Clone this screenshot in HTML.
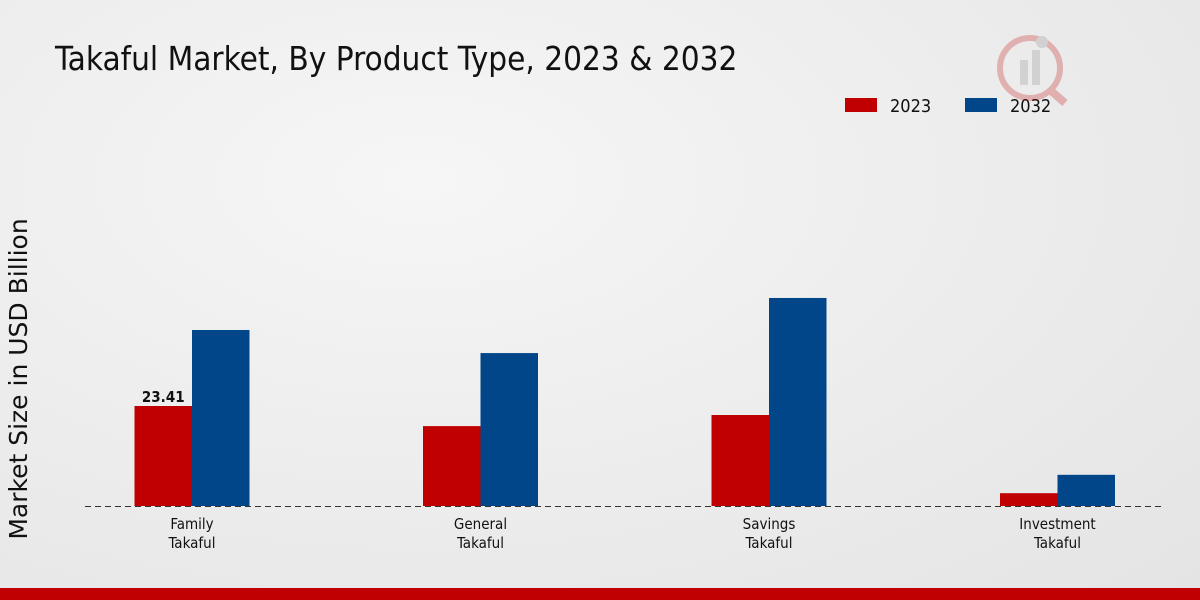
<!DOCTYPE html>
<html><head><meta charset="utf-8"><style>
body{margin:0;width:1200px;height:600px;overflow:hidden;background:radial-gradient(ellipse at 35% 30%,#f6f6f6 0%,#ebebeb 60%,#e4e4e4 100%);font-family:"DejaVu Sans Condensed","Liberation Sans Narrow","Liberation Sans",sans-serif;}
svg{position:absolute;left:0;top:0}
</style></head><body>
<svg width="1200" height="600" id="c">
<text x="55" y="70" font-size="33" fill="#111" style="font-family:'DejaVu Sans Condensed','Liberation Sans Narrow',sans-serif">Takaful Market, By Product Type, 2023 &amp; 2032</text>
<g>
<rect x="845" y="98" width="32" height="14" fill="#c00000"/>
<text x="890" y="112" font-size="18" fill="#111">2023</text>
<rect x="965" y="98" width="32" height="14" fill="#004689"/>
<text x="1010" y="112" font-size="18" fill="#111">2032</text>
</g>
<g opacity="0.25">
<circle cx="1030" cy="68" r="30" fill="none" stroke="#c00000" stroke-width="6"/>
<rect x="1020" y="60" width="8" height="25" fill="#888"/><rect x="1032" y="50" width="8" height="35" fill="#888"/><circle cx="1042" cy="42" r="6" fill="#888"/>
<line x1="1050" y1="90" x2="1065" y2="103" stroke="#c00000" stroke-width="8"/>
</g>
<text transform="translate(27,379) rotate(-90)" text-anchor="middle" font-size="25" fill="#111" style="font-family:'DejaVu Sans',sans-serif">Market Size in USD Billion</text>
<g id="bars"></g>
<line x1="85" y1="506.5" x2="1163" y2="506.5" stroke="#333" stroke-dasharray="6,4"/>
<g id="xl"></g>
<rect x="0" y="588" width="1200" height="12" fill="#c00000"/>
</svg>
<script>
const categories=[["Family","Takaful"],["General","Takaful"],["Savings","Takaful"],["Investment","Takaful"]];
const values2023=[23.41,18.7,21.3,3.0];
const values2032=[41.2,35.8,48.7,7.3];
const labels2023=["23.41","","",""];
const ns="http://www.w3.org/2000/svg";
const base=506,scale=100/23.41,x0=192,step=288.5,bw=57.5;
const yPx=v=>base-v*scale;
const xc=i=>x0+i*step;
const bars=document.getElementById('bars'),xl=document.getElementById('xl');
function mk(t,a){const e=document.createElementNS(ns,t);for(const k in a)e.setAttribute(k,a[k]);return e;}
categories.forEach((c,i)=>{
 const r1=mk('rect',{x:xc(i)-bw,y:yPx(values2023[i]),width:bw,height:values2023[i]*scale,fill:'#c00000'});
 
 
 bars.appendChild(r1);
 const r2=mk('rect',{x:xc(i),y:yPx(values2032[i]),width:bw,height:values2032[i]*scale,fill:'#004689'});
 
 
 bars.appendChild(r2);
 if(labels2023[i]){const t=mk('text',{x:xc(i)-bw/2,y:yPx(values2023[i])-4,'text-anchor':'middle','font-size':'15','font-weight':'bold',fill:'#111'});t.textContent=labels2023[i];
 
 
 bars.appendChild(t);}
 c.forEach((l,j)=>{const t=mk('text',{x:xc(i),y:529+j*19,'text-anchor':'middle','font-size':'15',fill:'#111'});t.textContent=l;
 
 
 xl.appendChild(t);});
});
</script>
</body></html>
